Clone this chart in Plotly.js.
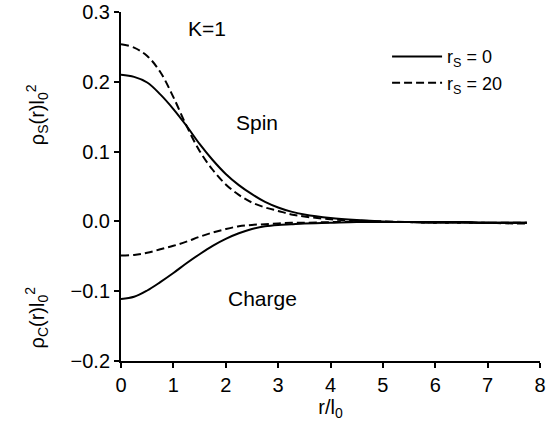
<!DOCTYPE html>
<html>
<head>
<meta charset="utf-8">
<script src="https://cdn.plot.ly/plotly-3.0.1.min.js"></script>
<style>html,body{margin:0;padding:0;background:#fff;}#chart{width:554px;height:426px;}</style>
</head>
<body>
<div id="chart"></div>
<script>
// r / l0 sample positions
var r = [0, 0.25, 0.5, 0.75, 1.0, 1.25, 1.5, 1.75, 2.0, 2.25, 2.5, 2.75, 3.0, 3.25, 3.5, 4.0, 4.5, 5.0, 5.5, 6.0, 6.5, 7.0, 7.5, 7.75];
// spin density, r_s = 0 (solid)
var spinRs0 = [0.210, 0.207, 0.199, 0.182, 0.161, 0.137, 0.111, 0.088, 0.068, 0.052, 0.039, 0.028, 0.020, 0.014, 0.010, 0.005, 0.002, 0.000, -0.001, -0.001, -0.001, -0.002, -0.002, -0.002];
// spin density, r_s = 20 (dashed)
var spinRs20 = [0.254, 0.249, 0.237, 0.214, 0.178, 0.137, 0.101, 0.074, 0.053, 0.038, 0.027, 0.020, 0.015, 0.010, 0.007, 0.003, 0.001, 0.000, -0.001, -0.002, -0.002, -0.002, -0.003, -0.003];
// charge density, r_s = 0 (solid)
var chargeRs0 = [-0.111, -0.108, -0.099, -0.087, -0.074, -0.060, -0.047, -0.035, -0.025, -0.017, -0.011, -0.007, -0.005, -0.004, -0.003, -0.002, -0.001, -0.001, -0.001, -0.001, -0.001, -0.002, -0.002, -0.002];
// charge density, r_s = 20 (dashed)
var chargeRs20 = [-0.049, -0.048, -0.045, -0.040, -0.035, -0.029, -0.022, -0.016, -0.011, -0.007, -0.005, -0.004, -0.003, -0.002, -0.002, -0.001, -0.001, -0.001, -0.001, -0.002, -0.002, -0.002, -0.002, -0.002];

var xTicks = [0, 1, 2, 3, 4, 5, 6, 7, 8];
var yTicks = [-0.2, -0.1, 0.0, 0.1, 0.2, 0.3];
var legendNames = ['r<sub>S</sub> = 0', 'r<sub>S</sub> = 20'];

var font = 'Liberation Sans, Arial, Helvetica, sans-serif';
var solid = {color: '#000', width: 2, dash: 'solid', shape: 'spline'};
var dashed = {color: '#000', width: 2, dash: '8px,4px', shape: 'spline'};

var traces = [
  {x: r, y: spinRs0, mode: 'lines', line: solid, name: legendNames[0], legendgroup: 'a', showlegend: true},
  {x: r, y: spinRs20, mode: 'lines', line: dashed, name: legendNames[1], legendgroup: 'b', showlegend: true},
  {x: r, y: chargeRs0, mode: 'lines', line: solid, name: legendNames[0], legendgroup: 'a', showlegend: false},
  {x: r, y: chargeRs20, mode: 'lines', line: dashed, name: legendNames[1], legendgroup: 'b', showlegend: false}
];

var layout = {
  width: 554, height: 426,
  margin: {l: 121, r: 14, t: 12, b: 65},
  paper_bgcolor: '#fff', plot_bgcolor: '#fff',
  font: {family: font, color: '#000', size: 19},
  showlegend: true,
  legend: {x: 0.635, y: 0.925, xanchor: 'left', yanchor: 'top', bgcolor: 'rgba(0,0,0,0)',
           font: {family: font, size: 18, color: '#000'}, itemwidth: 50, tracegroupgap: 0},
  xaxis: {
    range: [0, 8], tickvals: xTicks, ticktext: xTicks.map(String),
    showgrid: false, zeroline: false, showline: true, linecolor: '#000', linewidth: 2,
    ticks: 'outside', ticklen: 5, tickwidth: 2, tickcolor: '#000',
    tickfont: {family: font, size: 20, color: '#000'},
    title: {text: 'r/l<sub>0</sub>', font: {family: font, size: 20, color: '#000'}, standoff: 4}
  },
  yaxis: {
    range: [-0.2, 0.3], tickvals: yTicks, tickformat: '.1f',
    showgrid: false, zeroline: false, showline: true, linecolor: '#000', linewidth: 2,
    ticks: 'outside', ticklen: 5, tickwidth: 2, tickcolor: '#000',
    tickfont: {family: font, size: 20, color: '#000'}
  },
  annotations: [
    {xref: 'paper', yref: 'paper', x: -0.24, y: 0.80, text: 'ρ<sub>S</sub>(r)l<sub>0</sub><sup>2</sup>', textangle: -90, showarrow: false, font: {family: font, size: 20, color: '#000'}},
    {xref: 'paper', yref: 'paper', x: -0.24, y: 0.03, text: 'ρ<sub>C</sub>(r)l<sub>0</sub><sup>2</sup>', textangle: -90, showarrow: false, font: {family: font, size: 20, color: '#000'}},
    {xref: 'x', yref: 'y', x: 1.64, y: 0.276, text: 'K=1', showarrow: false, font: {family: font, size: 21, color: '#000'}},
    {xref: 'x', yref: 'y', x: 2.6, y: 0.141, text: 'Spin', showarrow: false, font: {family: font, size: 21, color: '#000'}},
    {xref: 'x', yref: 'y', x: 2.7, y: -0.111, text: 'Charge', showarrow: false, font: {family: font, size: 21, color: '#000'}}
  ]
};

Plotly.newPlot('chart', traces, layout, {staticPlot: true, displayModeBar: false});
</script>
</body>
</html>
